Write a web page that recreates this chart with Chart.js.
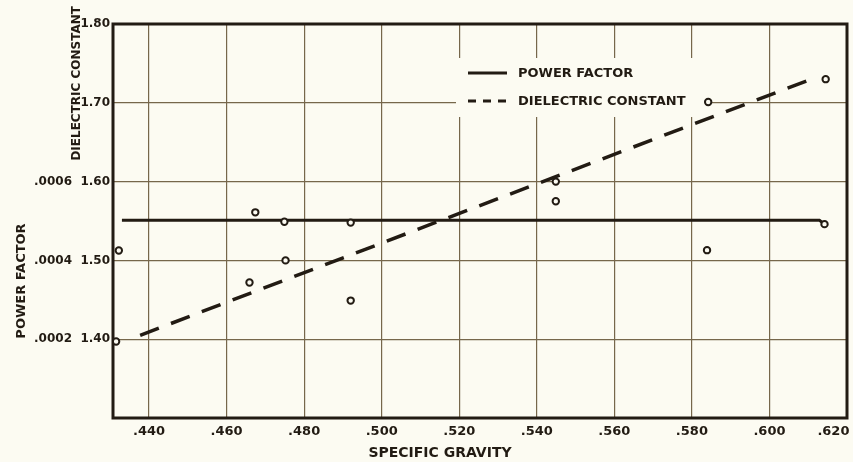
<!DOCTYPE html>
<html>
<head>
<meta charset="utf-8">
<title>Power factor and dielectric constant vs specific gravity</title>
<script src="https://cdn.jsdelivr.net/npm/chart.js@4.4.1/dist/chart.umd.min.js"></script>
<style>
  html, body { margin: 0; padding: 0; background: #fcfbf2; }
  canvas { display: block; }
</style>
</head>
<body>
<canvas id="chart" width="853" height="462"></canvas>
<script>
// measured specimens (specific gravity -> value)
const pfSg  = [0.4322, 0.4674, 0.4749, 0.4920, 0.5449, 0.5839, 0.6142];
const pfVal = [0.000425, 0.000522, 0.000498, 0.000496, 0.000550, 0.000426, 0.000492];
const dcSg  = [0.4315, 0.4659, 0.4752, 0.4920, 0.5449, 0.5842, 0.6145];
const dcVal = [1.397, 1.472, 1.500, 1.449, 1.600, 1.701, 1.730];

// drawn trend lines
const pfLineSg  = [0.4330, 0.6129, 0.6142];
const pfLineVal = [0.000502, 0.000502, 0.000492];
const dcLineSg  = [0.4377, 0.6097];
const dcLineVal = [1.405, 1.728];

// axis ticks
const sgTicks = [0.44, 0.46, 0.48, 0.50, 0.52, 0.54, 0.56, 0.58, 0.60, 0.62];
const dcTicks = [1.40, 1.50, 1.60, 1.70, 1.80];
const pfTicks = [0.0002, 0.0004, 0.0006];

const INK = "#221b13";
const GRID = "#76674b";
const BG = "#fcfbf2";
const FONT = "DejaVu Sans";

function pts(xs, ys){
  return xs.map((x, i) => ({ x: x, y: ys[i] }));
}

function noLeadZero(v, d){
  return v.toFixed(d).replace(/^0/, "");
}


/* =========================
   LEGEND, FRAME, TITLES
=========================*/
const decor = {
  id: "decor",
  beforeDatasetsDraw(chart){
    const ctx = chart.ctx;
    const a = chart.chartArea;
    const lx = a.left + 343, ly = a.top + 34;

    ctx.save();
    ctx.fillStyle = BG;
    ctx.fillRect(lx, ly, 249, 59);

    const items = chart.data.datasets.filter(d => d.inLegend);
    items.forEach((d, i) => {
      const y = ly + 15 + i * 28;
      ctx.strokeStyle = INK;
      ctx.lineWidth = 3;
      ctx.setLineDash(d.borderDash ? [8, 7] : []);
      ctx.beginPath();
      ctx.moveTo(lx + 12, y);
      ctx.lineTo(lx + 51, y);
      ctx.stroke();
      ctx.setLineDash([]);
      ctx.fillStyle = INK;
      ctx.font = "bold 13px " + FONT;
      ctx.textAlign = "left";
      ctx.textBaseline = "middle";
      ctx.fillText(d.label, lx + 62, y + 1);
    });

    ctx.strokeStyle = INK;
    ctx.lineWidth = 3;
    ctx.strokeRect(a.left, a.top, a.right - a.left, a.bottom - a.top);
    ctx.restore();
  },
  afterDraw(chart){
    const ctx = chart.ctx;
    ctx.save();
    ctx.fillStyle = INK;
    ctx.textBaseline = "alphabetic";

    ctx.font = "bold 12px " + FONT;
    ctx.save();
    ctx.translate(80, 6);
    ctx.rotate(-Math.PI / 2);
    ctx.textAlign = "right";
    ctx.fillText("DIELECTRIC CONSTANT", 0, 0);
    ctx.restore();

    ctx.font = "bold 13px " + FONT;
    ctx.save();
    ctx.translate(25, 281);
    ctx.rotate(-Math.PI / 2);
    ctx.textAlign = "center";
    ctx.fillText("POWER FACTOR", 0, 0);
    ctx.restore();

    ctx.font = "bold 14px " + FONT;
    ctx.textAlign = "center";
    ctx.textBaseline = "middle";
    ctx.fillText("SPECIFIC GRAVITY", 440, 453);
    ctx.restore();
  }
};


/* =========================
   CHART
=========================*/
new Chart(document.getElementById("chart"), {
  type: "scatter",
  data: {
    datasets: [
      {
        label: "POWER FACTOR",
        inLegend: true,
        data: pts(pfLineSg, pfLineVal),
        yAxisID: "yPF",
        showLine: true,
        borderColor: INK,
        borderWidth: 3,
        pointRadius: 0,
        order: 2
      },
      {
        label: "DIELECTRIC CONSTANT",
        inLegend: true,
        data: pts(dcLineSg, dcLineVal),
        yAxisID: "y",
        showLine: true,
        borderColor: INK,
        borderWidth: 3.5,
        borderDash: [20, 13],
        pointRadius: 0,
        order: 2
      },
      {
        label: "power factor points",
        data: pts(pfSg, pfVal),
        yAxisID: "yPF",
        pointRadius: 3.2,
        borderWidth: 2,
        borderColor: INK,
        backgroundColor: BG,
        order: 1
      },
      {
        label: "dielectric constant points",
        data: pts(dcSg, dcVal),
        yAxisID: "y",
        pointRadius: 3.2,
        borderWidth: 2,
        borderColor: INK,
        backgroundColor: BG,
        order: 1
      }
    ]
  },
  options: {
    responsive: false,
    animation: false,
    layout: { padding: { top: 24, right: 6, left: 0, bottom: 0 } },
    plugins: {
      legend: { display: false },
      tooltip: { enabled: false }
    },
    scales: {
      x: {
        type: "linear",
        min: 0.4307,
        max: 0.62,
        afterBuildTicks: s => { s.ticks = sgTicks.map(v => ({ value: v })); },
        afterFit: s => { s.height = 44; s.paddingLeft = 0; s.paddingRight = 0; },
        ticks: {
          autoSkip: false,
          maxRotation: 0,
          padding: 6,
          color: INK,
          font: { family: FONT, size: 13, weight: "bold" },
          // last label sits inside the frame like the original
          callback: (v, i, arr) => noLeadZero(v, 3) + (i === arr.length - 1 ? "      " : "")
        },
        grid: { color: GRID, lineWidth: 1.2, drawTicks: false },
        border: { display: false }
      },
      y: {
        position: "left",
        weight: 1,
        min: 1.3,
        max: 1.8,
        afterBuildTicks: s => { s.ticks = dcTicks.map(v => ({ value: v })); },
        afterFit: s => { s.width = 38; },
        ticks: {
          padding: 3,
          color: INK,
          font: { family: FONT, size: 12, weight: "bold" },
          callback: v => v.toFixed(2)
        },
        grid: { color: GRID, lineWidth: 1.2, drawTicks: false },
        border: { display: false }
      },
      yPF: {
        position: "left",
        weight: 2,
        min: 0,
        max: 0.001,
        afterBuildTicks: s => { s.ticks = pfTicks.map(v => ({ value: v })); },
        afterFit: s => { s.width = 75; },
        ticks: {
          padding: 3,
          color: INK,
          font: { family: FONT, size: 12, weight: "bold" },
          callback: v => noLeadZero(v, 4)
        },
        grid: { display: false, drawTicks: false },
        border: { display: false }
      }
    }
  },
  plugins: [decor]
});
</script>
</body>
</html>
